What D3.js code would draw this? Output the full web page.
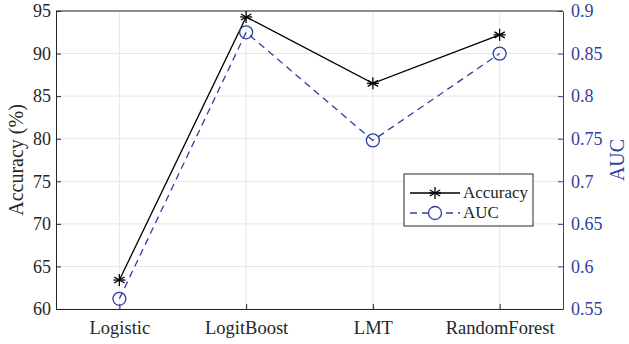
<!DOCTYPE html>
<html>
<head>
<meta charset="utf-8">
<script src="https://cdn.jsdelivr.net/npm/d3@7"></script>
<style>
  body { margin: 0; background: #fff; }
</style>
</head>
<body>
<div id="chart"></div>
<script>
// data
var models = ["Logistic", "LogitBoost", "LMT", "RandomForest"];
var accuracy = [63.4, 94.3, 86.5, 92.2];
var auc = [0.562, 0.875, 0.748, 0.85];
var accTicks = [60, 65, 70, 75, 80, 85, 90, 95];
var aucTicks = [0.55, 0.6, 0.65, 0.7, 0.75, 0.8, 0.85, 0.9];

var svgWidth = 629;
var svgHeight = 344;
var margin = { top: 11, right: 66, bottom: 35, left: 56 };
var width = svgWidth - margin.left - margin.right;
var height = svgHeight - margin.top - margin.bottom;

var blue = "#2f3f9e";
var dark = "#262626";
var serif = "'Liberation Serif', 'DejaVu Serif', serif";

var svg = d3.select("#chart").append("svg")
    .attr("width", svgWidth)
    .attr("height", svgHeight);

svg.append("rect").attr("width", svgWidth).attr("height", svgHeight).attr("fill", "#fff");

var g = svg.append("g")
    .attr("transform", `translate(${margin.left}, ${margin.top})`);

var x = d3.scaleLinear().domain([0.5, 4.5]).range([0, width]);
var yAcc = d3.scaleLinear().domain([60, 95]).range([height, 0]);
var yAuc = d3.scaleLinear().domain([0.55, 0.9]).range([height, 0]);

// grid
g.append("g").selectAll("line")
    .data(accTicks).enter().append("line")
    .attr("x1", 0).attr("x2", width)
    .attr("y1", d => yAcc(d)).attr("y2", d => yAcc(d))
    .attr("stroke", "#e6e6e6").attr("stroke-width", 1);
g.append("g").selectAll("line")
    .data(models).enter().append("line")
    .attr("x1", (d, i) => x(i + 1)).attr("x2", (d, i) => x(i + 1))
    .attr("y1", 0).attr("y2", height)
    .attr("stroke", "#e6e6e6").attr("stroke-width", 1);

// top border
g.append("line").attr("x1", 0).attr("x2", width).attr("y1", 0).attr("y2", 0)
    .attr("stroke", dark);

// axes
var leftAxis = d3.axisLeft(yAcc).tickValues(accTicks).tickSizeInner(-5).tickSizeOuter(0).tickPadding(5);
var rightAxis = d3.axisRight(yAuc).tickValues(aucTicks).tickSizeInner(-5).tickSizeOuter(0).tickPadding(8)
    .tickFormat(d3.format("~g"));
var bottomAxis = d3.axisBottom(x).tickValues([1, 2, 3, 4]).tickSizeInner(-5).tickSizeOuter(0).tickPadding(12)
    .tickFormat((d, i) => models[i]);

var la = g.append("g").call(leftAxis);
la.selectAll("text").attr("fill", dark).style("font-family", serif).style("font-size", "18px");
la.selectAll("line, path").attr("stroke", dark);

var ra = g.append("g").attr("transform", `translate(${width}, 0)`).call(rightAxis);
ra.selectAll("text").attr("fill", blue).style("font-family", serif).style("font-size", "18px");
ra.selectAll("line, path").attr("stroke", blue);

var ba = g.append("g").attr("transform", `translate(0, ${height})`).call(bottomAxis);
ba.selectAll("text").attr("fill", dark).style("font-family", serif).style("font-size", "18.5px");
ba.selectAll("line, path").attr("stroke", dark);

// axis labels
g.append("text")
    .attr("transform", `translate(${16 - margin.left}, ${height / 2}) rotate(-90)`)
    .attr("text-anchor", "middle")
    .attr("dy", "0.35em")
    .style("font-family", serif).style("font-size", "20px")
    .attr("fill", dark)
    .text("Accuracy (%)");

g.append("text")
    .attr("transform", `translate(${width + 54}, ${height / 2}) rotate(-90)`)
    .attr("text-anchor", "middle")
    .attr("dy", "0.35em")
    .style("font-family", serif).style("font-size", "20px")
    .attr("fill", blue)
    .text("AUC");

// lines
var accLine = d3.line().x((d, i) => x(i + 1)).y(d => yAcc(d));
var aucLine = d3.line().x((d, i) => x(i + 1)).y(d => yAuc(d));

g.append("path").datum(accuracy)
    .attr("d", accLine).attr("fill", "none")
    .attr("stroke", "#000").attr("stroke-width", 1.3);

g.append("path").datum(auc)
    .attr("d", aucLine).attr("fill", "none")
    .attr("stroke", blue).attr("stroke-width", 1.3)
    .attr("stroke-dasharray", "7,5");

function drawStar(sel) {
  sel.each(function() {
    var s = d3.select(this);
    var r = 6;
    [0, 60, 120].forEach(function(a) {
      var rad = a * Math.PI / 180;
      s.append("line")
        .attr("x1", -r * Math.sin(rad)).attr("y1", -r * Math.cos(rad))
        .attr("x2", r * Math.sin(rad)).attr("y2", r * Math.cos(rad))
        .attr("stroke", "#000").attr("stroke-width", 1.3);
    });
    s.append("line").attr("x1", -r).attr("x2", r).attr("y1", 0).attr("y2", 0)
      .attr("stroke", "#000").attr("stroke-width", 1.3);
  });
}

g.selectAll(".acc-marker")
    .data(accuracy).enter().append("g")
    .attr("class", "acc-marker")
    .attr("transform", (d, i) => `translate(${x(i + 1)}, ${yAcc(d)})`)
    .call(drawStar);

g.selectAll(".auc-marker")
    .data(auc).enter().append("circle")
    .attr("class", "auc-marker")
    .attr("cx", (d, i) => x(i + 1))
    .attr("cy", d => yAuc(d))
    .attr("r", 6.5)
    .attr("fill", "none")
    .attr("stroke", blue).attr("stroke-width", 1.3);

// legend
var lg = g.append("g").attr("transform", `translate(${404 - margin.left}, ${174 - margin.top})`);
lg.append("rect").attr("width", 129).attr("height", 52)
    .attr("fill", "#fff").attr("stroke", dark).attr("stroke-width", 1);

lg.append("line").attr("x1", 6).attr("x2", 56).attr("y1", 19).attr("y2", 19)
    .attr("stroke", "#000").attr("stroke-width", 1.3);
lg.append("g").attr("transform", "translate(31, 19)").call(drawStar);
lg.append("text").attr("x", 59).attr("y", 19).attr("dy", "0.32em")
    .style("font-family", serif).style("font-size", "17px")
    .attr("fill", dark).text("Accuracy");

lg.append("line").attr("x1", 6).attr("x2", 56).attr("y1", 39).attr("y2", 39)
    .attr("stroke", blue).attr("stroke-width", 1.3).attr("stroke-dasharray", "7,5");
lg.append("circle").attr("cx", 31).attr("cy", 39).attr("r", 6.5)
    .attr("fill", "#fff").attr("stroke", blue).attr("stroke-width", 1.3);
lg.append("text").attr("x", 59).attr("y", 39).attr("dy", "0.32em")
    .style("font-family", serif).style("font-size", "17px")
    .attr("fill", dark).text("AUC");
</script>
</body>
</html>
